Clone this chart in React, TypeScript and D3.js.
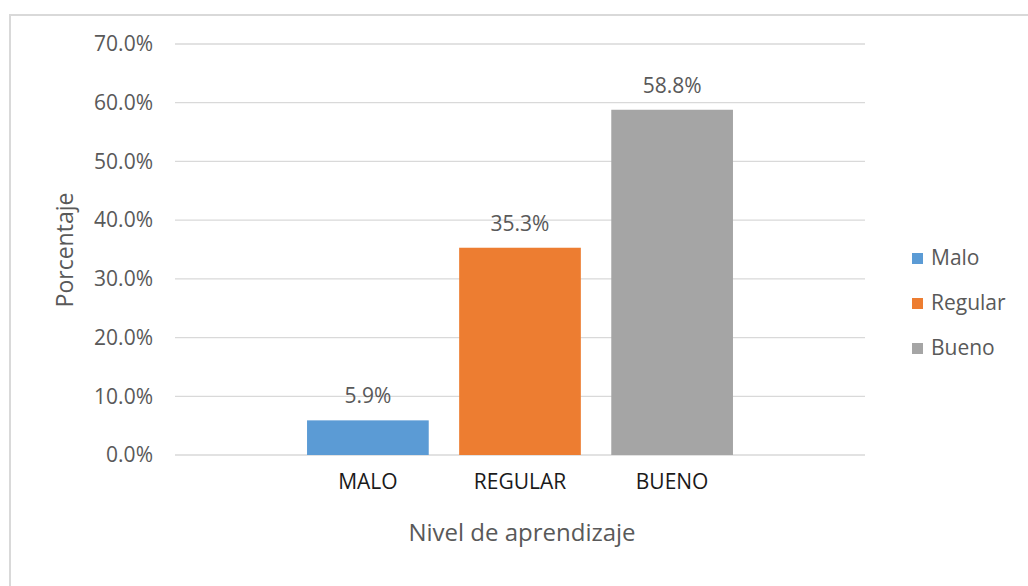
import React, { useEffect, useRef } from 'react'
import * as d3 from 'd3'

const categories = ['MALO', 'REGULAR', 'BUENO']
const seriesNames = ['Malo', 'Regular', 'Bueno']
const values = [5.9, 35.3, 58.8]
const colors = ['#5B9BD5', '#ED7D31', '#A5A5A5']
const yTicks = [0, 10, 20, 30, 40, 50, 60, 70]

export default function App() {
  const svgRef = useRef<SVGSVGElement | null>(null)

  useEffect(() => {
    if (!svgRef.current) return
    const svg = d3.select(svgRef.current)
    svg.selectAll('*').remove()
    const width = 1028
    const height = 586
    const font = '"Open Sans", "Noto Sans", sans-serif'

    svg.attr('width', width).attr('height', height)

    // chart frame
    svg.append('rect')
      .attr('x', 10).attr('y', 15)
      .attr('width', 1040).attr('height', 600)
      .attr('fill', '#fff')
      .attr('stroke', '#d9d9d9').attr('stroke-width', 2)

    const plotLeft = 175
    const plotRight = 865
    const y = d3.scaleLinear().domain([0, 70]).range([455, 44])

    // one category group, three series bars inside it
    const outer = d3.scaleBand().domain(['all']).range([plotLeft, plotRight]).paddingOuter(0.31)
    const inner = d3.scaleBand().domain(categories)
      .range([outer('all') || 0, (outer('all') || 0) + outer.bandwidth()])
      .paddingInner(0.2)

    // gridlines
    svg.append('g')
      .selectAll('line')
      .data(yTicks)
      .enter()
      .append('line')
      .attr('x1', plotLeft).attr('x2', plotRight)
      .attr('y1', d => y(d)).attr('y2', d => y(d))
      .attr('stroke', '#d9d9d9').attr('stroke-width', 1.3)

    // y tick labels
    svg.append('g')
      .selectAll('text')
      .data(yTicks)
      .enter()
      .append('text')
      .attr('x', 153).attr('y', d => y(d))
      .attr('dy', '0.35em')
      .attr('text-anchor', 'end')
      .style('font-family', font).style('font-size', '21px')
      .attr('fill', '#595959')
      .text(d => d.toFixed(1) + '%')

    // bars
    svg.append('g')
      .selectAll('rect')
      .data(values)
      .enter()
      .append('rect')
      .attr('x', (d, i) => inner(categories[i]) || 0)
      .attr('y', d => y(d))
      .attr('width', inner.bandwidth())
      .attr('height', d => y(0) - y(d))
      .attr('fill', (d, i) => colors[i])

    // data labels
    svg.append('g')
      .selectAll('text')
      .data(values)
      .enter()
      .append('text')
      .attr('x', (d, i) => (inner(categories[i]) || 0) + inner.bandwidth() / 2)
      .attr('y', d => y(d) - 17)
      .attr('text-anchor', 'middle')
      .style('font-family', font).style('font-size', '21px')
      .attr('fill', '#595959')
      .text(d => d.toFixed(1) + '%')

    // category labels
    svg.append('g')
      .selectAll('text')
      .data(categories)
      .enter()
      .append('text')
      .attr('x', d => (inner(d) || 0) + inner.bandwidth() / 2)
      .attr('y', 489)
      .attr('text-anchor', 'middle')
      .style('font-family', font).style('font-size', '21px')
      .attr('fill', '#1a1a1a')
      .text(d => d)

    // axis titles
    svg.append('text')
      .attr('x', 522).attr('y', 541)
      .attr('text-anchor', 'middle')
      .style('font-family', font).style('font-size', '24px')
      .attr('fill', '#595959')
      .text('Nivel de aprendizaje')

    svg.append('text')
      .attr('transform', 'rotate(-90)')
      .attr('x', -250).attr('y', 73)
      .attr('text-anchor', 'middle')
      .style('font-family', font).style('font-size', '23px')
      .attr('fill', '#595959')
      .text('Porcentaje')

    // legend
    const legend = svg.append('g')
      .selectAll('g')
      .data(seriesNames)
      .enter()
      .append('g')
      .attr('transform', (d, i) => `translate(912, ${258 + i * 45})`)
    legend.append('rect')
      .attr('x', 0).attr('y', -5)
      .attr('width', 11).attr('height', 11)
      .attr('fill', (d, i) => colors[i])
    legend.append('text')
      .attr('x', 19).attr('dy', '0.35em')
      .style('font-family', font).style('font-size', '21px')
      .attr('fill', '#595959')
      .text(d => d)
  }, [])

  return (
    <svg ref={svgRef} style={{ position: 'absolute', left: 0, top: 0 }}></svg>
  )
}
